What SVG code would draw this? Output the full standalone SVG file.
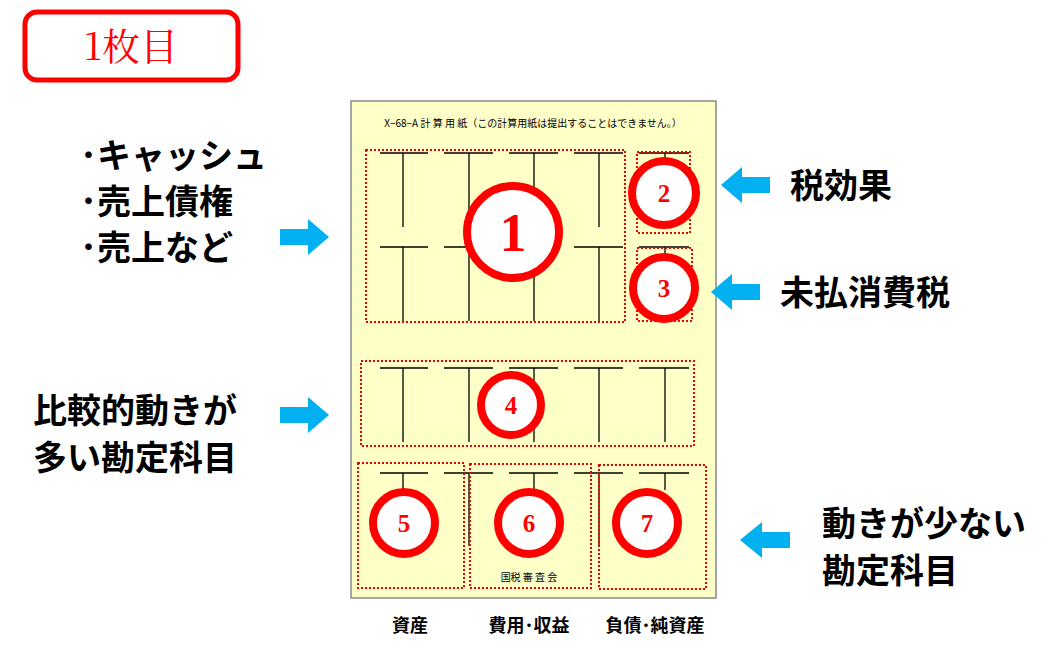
<svg xmlns="http://www.w3.org/2000/svg" width="1050" height="651" viewBox="0 0 1050 651">
<style>
.t{stroke:#000;stroke-width:1.3;fill:none}
.d{fill:none;stroke:#e00;stroke-width:2;stroke-dasharray:2 2}
.c{fill:#fff;stroke:#f00;stroke-width:8}
.n{font-family:"Liberation Serif",serif;fill:#f00;text-anchor:middle}
.b{font-family:"Noto Sans CJK JP",sans-serif;font-weight:bold;font-size:34px;fill:#000}
.s{font-family:"Noto Sans CJK JP",sans-serif;font-weight:bold;font-size:18px;fill:#000;text-anchor:middle}
.a{fill:#00b0f0}
</style>
<g id="title"><rect x="25" y="12" width="213" height="68" rx="12" fill="#fff" stroke="#f00" stroke-width="5"/>
<text x="131" y="60" font-family="Noto Serif CJK JP,Liberation Serif,Noto Sans CJK JP,serif" font-size="38" fill="#f00" text-anchor="middle">1枚目</text></g>
<g id="paper"><rect x="351" y="101" width="365" height="497" fill="#ffffc8" stroke="#888" stroke-width="1.5"/>
<text x="533" y="127" font-family="Noto Sans CJK JP,sans-serif" font-size="10" text-anchor="middle">X−68−A 計 算 用 紙（この計算用紙は提出することはできません。）</text>
<text x="529" y="581" font-family="Noto Sans CJK JP,sans-serif" font-size="10" text-anchor="middle">国税 審 査 会</text></g>
<g id="taccounts" class="t">
<path d="M380 153H428M403 153V227M444 153H493M469 153V227M509 153H558M534 153V227M574 153H623M599 153V227M639 153H689M665 153V227"/>
<path d="M380 247H428M403 247V321M444 247H493M469 247V321M509 247H558M534 247V321M574 247H623M599 247V321M639 247H689M665 247V321"/>
<path d="M380 368H428M403 368V442M444 368H493M469 368V442M509 368H558M534 368V442M574 368H623M599 368V442M639 368H689M665 368V442"/>
<path d="M380 473H428M403 473V490M444 473H493M469 473V546M509 473H558M534 473V490M574 473H623M599 473V545M639 473H689M665 473V490"/>
</g>
<g id="boxes">
<rect class="d" x="366" y="150" width="259" height="172"/>
<rect class="d" x="637" y="152" width="53" height="81"/>
<rect class="d" x="637" y="248" width="55" height="73"/>
<rect class="d" x="361" y="361" width="333" height="85"/>
<rect class="d" x="358" y="463" width="106" height="125"/>
<rect class="d" x="470" y="464" width="121" height="124"/>
<rect class="d" x="599" y="465" width="107" height="124"/>
</g>
<g id="n1"><circle class="c" cx="513" cy="232" r="46"/><text class="n" x="513" y="251" font-size="54" font-weight="bold">1</text></g>
<g id="n2"><circle class="c" cx="664" cy="193" r="32"/><text class="n" x="664" y="202" font-size="25" font-weight="bold">2</text></g>
<g id="n3"><circle class="c" cx="664" cy="288" r="31"/><text class="n" x="664" y="297" font-size="25" font-weight="bold">3</text></g>
<g id="n4"><circle class="c" cx="511" cy="405" r="30"/><text class="n" x="511" y="414" font-size="25" font-weight="bold">4</text></g>
<g id="n5"><circle class="c" cx="404" cy="523" r="31"/><text class="n" x="404" y="532" font-size="25" font-weight="bold">5</text></g>
<g id="n6"><circle class="c" cx="529" cy="523" r="31"/><text class="n" x="529" y="532" font-size="25" font-weight="bold">6</text></g>
<g id="n7"><circle class="c" cx="647" cy="523" r="31"/><text class="n" x="647" y="532" font-size="25" font-weight="bold">7</text></g>
<g id="connectors">
<polygon class="a" points="280,229 308,229 308,219 329,237 308,255 308,245 280,245"/>
<polygon class="a" points="280,407 308,407 308,397 329,415 308,433 308,423 280,423"/>
<polygon class="a" points="770,177 742,177 742,167 721,185 742,203 742,193 770,193"/>
<polygon class="a" points="760,284 732,284 732,274 711,292 732,310 732,300 760,300"/>
<polygon class="a" points="790,532 762,532 762,522 740,540 762,558 762,548 790,548"/>
</g>
<g id="labels">
<text class="b" x="80" y="168">･キャッシュ</text>
<text class="b" x="80" y="214">･売上債権</text>
<text class="b" x="80" y="260">･売上など</text>
<text class="b" x="33" y="423">比較的動きが</text>
<text class="b" x="33" y="470">多い勘定科目</text>
<text class="b" x="790" y="198">税効果</text>
<text class="b" x="780" y="305">未払消費税</text>
<text class="b" x="822" y="536">動きが少ない</text>
<text class="b" x="822" y="583">勘定科目</text>
<text class="s" x="410" y="632">資産</text>
<text class="s" x="529" y="632">費用･収益</text>
<text class="s" x="655" y="632">負債･純資産</text>
</g>
</svg>
